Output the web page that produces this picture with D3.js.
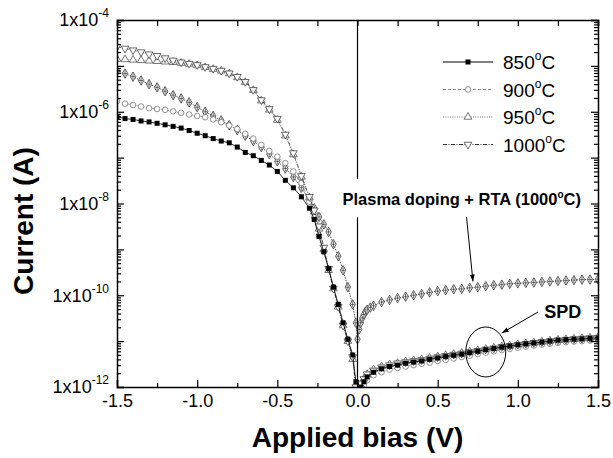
<!DOCTYPE html>
<html>
<head>
<meta charset="utf-8">
<script src="https://cdn.jsdelivr.net/npm/d3@7"></script>
<style>
  body { margin: 0; background: #fff; }
  svg { display: block; font-family: "Liberation Sans", Arial, sans-serif; }
</style>
</head>
<body>
<div id="chart"></div>
<script>
// bias points (V)
const negBias = [-1.5, -1.45, -1.4, -1.35, -1.3, -1.25, -1.2, -1.15, -1.1, -1.05, -1.0, -0.95, -0.9, -0.85, -0.8,
  -0.75, -0.7, -0.65, -0.6, -0.55, -0.5, -0.45, -0.4, -0.35, -0.3,
  -0.27, -0.24, -0.21, -0.18, -0.15, -0.12, -0.09, -0.06, -0.03, -0.01];
const posBias = [0.02, 0.04, 0.06, 0.1, 0.15, 0.2, 0.25, 0.3, 0.35, 0.4, 0.45, 0.5, 0.55, 0.6, 0.65, 0.7, 0.75,
  0.8, 0.85, 0.9, 0.95, 1.0, 1.05, 1.1, 1.15, 1.2, 1.25, 1.3, 1.35, 1.4, 1.45, 1.5];
const plasmaPosBias = [0, 0.01, 0.02, 0.03, 0.04, 0.05, 0.06, 0.08, 0.1, 0.15, 0.2, 0.25, 0.3, 0.35, 0.4, 0.45,
  0.5, 0.55, 0.6, 0.65, 0.7, 0.75, 0.8, 0.85, 0.9, 0.95, 1.0, 1.05, 1.1, 1.15, 1.2, 1.25, 1.3, 1.35, 1.4, 1.45, 1.5];

// current (A)
const i850Neg = [7.8e-7, 7.1e-7, 6.8e-7, 6.3e-7, 6.0e-7, 5.6e-7, 5.2e-7, 4.8e-7, 4.4e-7, 3.9e-7, 3.4e-7, 3.0e-7,
  2.6e-7, 2.3e-7, 2.1e-7, 1.7e-7, 1.3e-7, 1.1e-7, 8.7e-8, 6.9e-8, 5.0e-8, 3.2e-8, 2.2e-8, 1.4e-8, 7.9e-9,
  4.5e-9, 1.9e-9, 8.9e-10, 3.8e-10, 1.5e-10, 6.3e-11, 2.5e-11, 1.1e-11, 5.0e-12, 1.3e-12];
const i850Pos = [1.0e-12, 1.3e-12, 1.66e-12, 2.1e-12, 2.5e-12, 2.8e-12, 3.0e-12, 3.3e-12, 3.5e-12, 3.7e-12, 4.0e-12,
  4.3e-12, 4.6e-12, 4.9e-12, 5.2e-12, 5.6e-12, 6.0e-12, 6.5e-12, 6.9e-12, 7.4e-12, 7.8e-12, 8.3e-12, 8.7e-12,
  9.1e-12, 9.5e-12, 1.0e-11, 1.05e-11, 1.07e-11, 1.1e-11, 1.12e-11, 1.15e-11, 1.17e-11];

const i900Neg = [1.7e-6, 1.5e-6, 1.4e-6, 1.3e-6, 1.2e-6, 1.15e-6, 1.1e-6, 1.02e-6, 9.5e-7, 8.7e-7, 8.1e-7, 7.6e-7,
  6.8e-7, 5.9e-7, 5.0e-7, 4.2e-7, 3.3e-7, 2.6e-7, 1.9e-7, 1.4e-7, 1.05e-7, 7.6e-8, 5.0e-8, 2.8e-8, 1.1e-8,
  5.0e-9, 2.0e-9, 8.9e-10, 3.8e-10, 1.5e-10, 6.3e-11, 2.5e-11, 1.1e-11, 4.5e-12, 1.0e-12];
const i900Pos = [0.9e-12, 1.1e-12, 1.4e-12, 1.8e-12, 2.1e-12, 2.4e-12, 2.6e-12, 2.8e-12, 3.0e-12, 3.2e-12, 3.4e-12,
  3.7e-12, 3.9e-12, 4.2e-12, 4.5e-12, 4.8e-12, 5.2e-12, 5.6e-12, 6.0e-12, 6.4e-12, 6.8e-12, 7.2e-12, 7.6e-12,
  8.0e-12, 8.4e-12, 8.8e-12, 9.2e-12, 9.5e-12, 9.8e-12, 1.0e-11, 1.03e-11, 1.06e-11];

const i950Neg = [1.4e-5, 1.38e-5, 1.35e-5, 1.32e-5, 1.29e-5, 1.26e-5, 1.23e-5, 1.2e-5, 1.15e-5, 1.1e-5, 1.02e-5,
  9.3e-6, 8.5e-6, 7.8e-6, 6.8e-6, 5.6e-6, 4.4e-6, 2.95e-6, 1.74e-6, 1.1e-6, 6.6e-7, 3.0e-7, 1.17e-7, 3.8e-8, 1.35e-8,
  6.6e-9, 2.8e-9, 1.0e-9, 3.5e-10, 1.4e-10, 5.6e-11, 2.2e-11, 1.0e-11, 4.0e-12, 1.0e-12];
const i950Pos = [1.1e-12, 1.5e-12, 1.9e-12, 2.4e-12, 2.8e-12, 3.1e-12, 3.3e-12, 3.6e-12, 3.8e-12, 4.0e-12, 4.3e-12,
  4.6e-12, 4.9e-12, 5.2e-12, 5.5e-12, 5.9e-12, 6.3e-12, 6.7e-12, 7.1e-12, 7.6e-12, 8.0e-12, 8.5e-12, 8.9e-12,
  9.3e-12, 9.7e-12, 1.02e-11, 1.06e-11, 1.09e-11, 1.12e-11, 1.15e-11, 1.18e-11, 1.2e-11];

const i1000Neg = [2.6e-5, 2.4e-5, 2.2e-5, 2.0e-5, 1.8e-5, 1.66e-5, 1.48e-5, 1.32e-5, 1.2e-5, 1.12e-5, 1.05e-5,
  9.5e-6, 8.7e-6, 7.9e-6, 6.9e-6, 5.8e-6, 4.5e-6, 3.0e-6, 1.8e-6, 1.15e-6, 7.1e-7, 3.2e-7, 1.26e-7, 4.0e-8, 1.4e-8,
  7.1e-9, 3.2e-9, 1.1e-9, 3.8e-10, 1.4e-10, 5.6e-11, 2.2e-11, 1.0e-11, 4.5e-12, 1.0e-12];
const i1000Pos = [1.2e-12, 1.5e-12, 1.9e-12, 2.3e-12, 2.7e-12, 3.0e-12, 3.3e-12, 3.5e-12, 3.7e-12, 3.9e-12, 4.2e-12,
  4.5e-12, 4.8e-12, 5.1e-12, 5.4e-12, 5.8e-12, 6.2e-12, 6.6e-12, 7.0e-12, 7.5e-12, 7.9e-12, 8.4e-12, 8.8e-12,
  9.2e-12, 9.6e-12, 1.0e-11, 1.04e-11, 1.08e-11, 1.11e-11, 1.14e-11, 1.17e-11, 1.2e-11];

// plasma doping + RTA (1000 C)
const iPlasmaNeg = [7.8e-6, 6.8e-6, 5.8e-6, 4.8e-6, 4.0e-6, 3.4e-6, 2.8e-6, 2.3e-6, 1.95e-6, 1.6e-6, 1.26e-6,
  1.0e-6, 8.1e-7, 6.5e-7, 5.1e-7, 4.0e-7, 3.0e-7, 2.3e-7, 1.7e-7, 1.2e-7, 8.3e-8, 5.8e-8, 3.8e-8, 2.2e-8, 1.2e-8,
  7.9e-9, 5.1e-9, 3.5e-9, 2.4e-9, 1.3e-9, 7.1e-10, 3.5e-10, 1.5e-10, 6.3e-11, 2.5e-11];
const iPlasmaPos = [1.1e-11, 1.8e-11, 2.5e-11, 3.2e-11, 3.8e-11, 4.4e-11, 4.8e-11, 5.4e-11, 5.9e-11, 7.1e-11,
  7.9e-11, 8.7e-11, 9.3e-11, 1.0e-10, 1.07e-10, 1.15e-10, 1.23e-10, 1.29e-10, 1.35e-10, 1.38e-10, 1.45e-10,
  1.5e-10, 1.58e-10, 1.66e-10, 1.7e-10, 1.78e-10, 1.82e-10, 1.86e-10, 1.9e-10, 1.95e-10, 2.0e-10, 2.04e-10,
  2.1e-10, 2.14e-10, 2.19e-10, 2.2e-10, 2.24e-10];

const legendNames = ["850", "900", "950", "1000"];
const xTickLabels = [-1.5, -1.0, -0.5, 0.0, 0.5, 1.0, 1.5];
const yTickLabels = [-4, -6, -8, -10, -12];

const width = 613, height = 458;
const svg = d3.select("#chart").append("svg").attr("width", width).attr("height", height);

const x = d3.scaleLinear().domain([-1.5, 1.5]).range([117, 598]);
const y = d3.scaleLog().domain([1e-12, 1e-4]).range([387, 20]);

const pair = (vs, is) => vs.map((v, k) => [v, is[k]]);

const series = [
  { pts: pair(negBias, iPlasmaNeg).concat(pair(plasmaPosBias, iPlasmaPos)), mk: "plasma", stroke: "#222", dash: "1.5,1.2", mstroke: "#333" },
  { pts: pair(negBias, i900Neg).concat(pair(posBias, i900Pos)), mk: "circle", stroke: "#888", dash: "3,2", mstroke: "#777" },
  { pts: pair(negBias, i950Neg).concat(pair(posBias, i950Pos)), mk: "up", stroke: "#777", dash: "1,1.3", mstroke: "#555" },
  { pts: pair(negBias, i1000Neg).concat(pair(posBias, i1000Pos)), mk: "down", stroke: "#333", dash: "4,1.5,1,1.5", mstroke: "#444" },
  { pts: pair(negBias, i850Neg).concat(pair(posBias, i850Pos)), mk: "square", stroke: "#000", dash: null, mstroke: "#000" }
];

svg.append("clipPath").attr("id", "clip")
  .append("rect").attr("x", 117).attr("y", 20).attr("width", 481).attr("height", 367);

// marker shapes
function drawMarker(g, type, color) {
  if (type === "square") {
    g.append("rect").attr("x", -2.5).attr("y", -2.5).attr("width", 5).attr("height", 5).attr("fill", "#000");
  } else if (type === "circle") {
    g.append("circle").attr("r", 2.8).attr("fill", "#fff").attr("stroke", color).attr("stroke-width", 0.8);
  } else if (type === "up") {
    g.append("path").attr("d", d3.symbol(d3.symbolTriangle, 26)()).attr("fill", "#fff").attr("stroke", color).attr("stroke-width", 0.8);
  } else if (type === "down") {
    g.append("path").attr("d", d3.symbol(d3.symbolTriangle, 26)()).attr("transform", "rotate(180)")
      .attr("fill", "#fff").attr("stroke", color).attr("stroke-width", 0.8);
  } else {
    g.append("path").attr("d", d3.symbol(d3.symbolDiamond, 26)()).attr("fill", "#fff").attr("stroke", color).attr("stroke-width", 0.8);
    g.append("path").attr("d", "M-2,0H2M0,-3V3").attr("stroke", color).attr("stroke-width", 0.7);
  }
}

const line = d3.line().x(d => x(d[0])).y(d => y(d[1]));
const plot = svg.append("g").attr("clip-path", "url(#clip)");

series.forEach(s => {
  plot.append("path").datum(s.pts)
    .attr("d", line).attr("fill", "none")
    .attr("stroke", s.stroke).attr("stroke-width", 0.8)
    .attr("stroke-dasharray", s.dash);
  plot.append("g").selectAll("g").data(s.pts).join("g")
    .attr("transform", d => `translate(${x(d[0])},${y(d[1])})`)
    .each(function () { drawMarker(d3.select(this), s.mk, s.mstroke); });
});

// vertical line at 0 V, broken for the annotation text
const zeroLine = svg.append("g").attr("stroke", "#000").attr("stroke-width", 1.2);
zeroLine.append("line").attr("x1", x(0)).attr("x2", x(0)).attr("y1", y(1e-4)).attr("y2", y(3.4e-8));
zeroLine.append("line").attr("x1", x(0)).attr("x2", x(0)).attr("y1", y(5e-9)).attr("y2", y(1e-12));

// axes
const majorX = d3.range(-1.5, 1.51, 0.5);
const minorX = d3.range(-1.25, 1.3, 0.5);
const decades = d3.range(-12, -3).map(e => Math.pow(10, e));
const minorY = [];
decades.slice(0, -1).forEach(d => { for (let k = 2; k <= 9; k++) minorY.push(d * k); });

function styleAxis(g) {
  g.select(".domain").attr("stroke", "#000").attr("stroke-width", 1.5);
  g.selectAll(".tick line").attr("stroke", "#000").attr("stroke-width", 1.2);
}

svg.append("g").attr("transform", "translate(0,387)")
  .call(d3.axisBottom(x).tickValues(xTickLabels).tickSize(-7).tickPadding(7).tickFormat(d => d.toFixed(1)))
  .call(styleAxis)
  .call(g => g.selectAll(".tick text").attr("font-size", 18).attr("fill", "#000")
    .attr("font-family", "Liberation Sans, Arial, sans-serif"));
svg.append("g").attr("transform", "translate(0,387)")
  .call(d3.axisBottom(x).tickValues(minorX).tickSize(-4).tickFormat(""))
  .call(styleAxis).call(g => g.select(".domain").remove());

svg.append("g").attr("transform", "translate(0,20)")
  .call(d3.axisTop(x).tickValues(majorX).tickSize(-6).tickFormat(""))
  .call(styleAxis);
svg.append("g").attr("transform", "translate(0,20)")
  .call(d3.axisTop(x).tickValues(minorX).tickSize(-6).tickFormat(""))
  .call(styleAxis).call(g => g.select(".domain").remove());

svg.append("g").attr("transform", "translate(117,0)")
  .call(d3.axisLeft(y).tickValues(decades).tickSize(-7).tickFormat(""))
  .call(styleAxis);
svg.append("g").attr("transform", "translate(117,0)")
  .call(d3.axisLeft(y).tickValues(minorY).tickSize(-4).tickFormat(""))
  .call(styleAxis).call(g => g.select(".domain").remove());

svg.append("g").attr("transform", "translate(598,0)")
  .call(d3.axisRight(y).tickValues(decades).tickSize(-7).tickFormat(""))
  .call(styleAxis);
svg.append("g").attr("transform", "translate(598,0)")
  .call(d3.axisRight(y).tickValues(minorY).tickSize(-4).tickFormat(""))
  .call(styleAxis).call(g => g.select(".domain").remove());

// y tick labels 1x10^n
const yLab = svg.append("g").attr("font-size", 18).attr("text-anchor", "end");
yTickLabels.forEach(e => {
  const t = yLab.append("text").attr("x", 109).attr("y", y(Math.pow(10, e))).attr("dy", "0.35em");
  t.append("tspan").text("1x10");
  t.append("tspan").attr("font-size", 12).attr("dy", "-0.75em").text(e);
});

// axis titles
svg.append("text").attr("x", x(0)).attr("y", 447).attr("text-anchor", "middle")
  .attr("font-size", 28).attr("font-weight", "bold").text("Applied bias (V)");
svg.append("text").attr("transform", "translate(33,221) rotate(-90)").attr("text-anchor", "middle")
  .attr("font-size", 28).attr("font-weight", "bold").text("Current (A)");

// legend
const legend = svg.append("g").attr("transform", "translate(443,62)");
const legendOrder = [4, 1, 2, 3];
legendOrder.forEach((si, k) => {
  const s = series[si];
  const row = legend.append("g").attr("transform", `translate(0,${k * 27.5})`);
  row.append("line").attr("x1", 0).attr("x2", 50).attr("stroke", s.stroke)
    .attr("stroke-width", si === 4 ? 1.2 : 1).attr("stroke-dasharray", s.dash);
  drawMarker(row.append("g").attr("transform", "translate(25,0)"), s.mk, s.mstroke);
  const t = row.append("text").attr("x", 60).attr("y", 7).attr("font-size", 19);
  t.append("tspan").text(legendNames[k]);
  t.append("tspan").attr("font-size", 12).attr("dy", -9).text("o");
  t.append("tspan").attr("dy", 9).text("C");
});

// annotations
const ann = svg.append("g");
const pt = ann.append("text").attr("x", x(0.65)).attr("y", y(9.3e-9)).attr("text-anchor", "middle")
  .attr("font-size", 16.5).attr("font-weight", "bold");
pt.append("tspan").text("Plasma doping + RTA (1000");
pt.append("tspan").attr("font-size", 10).attr("dy", -7).text("o");
pt.append("tspan").attr("dy", 7).text("C)");

ann.append("text").attr("x", x(1.28)).attr("y", y(3.2e-11)).attr("text-anchor", "middle")
  .attr("font-size", 18).attr("font-weight", "bold").text("SPD");

svg.append("defs").append("marker").attr("id", "arrow").attr("viewBox", "0 0 10 10")
  .attr("refX", 10).attr("refY", 5).attr("markerWidth", 7).attr("markerHeight", 7).attr("orient", "auto")
  .append("path").attr("d", "M0,1.5L10,5L0,8.5Z").attr("fill", "#000");

ann.append("line").attr("x1", x(0.68)).attr("y1", y(5.1e-9)).attr("x2", x(0.72)).attr("y2", y(2.0e-10))
  .attr("stroke", "#000").attr("stroke-width", 1).attr("marker-end", "url(#arrow)");
ann.append("line").attr("x1", x(1.125)).attr("y1", y(4.3e-11)).attr("x2", x(0.9)).attr("y2", y(1.5e-11))
  .attr("stroke", "#000").attr("stroke-width", 1).attr("marker-end", "url(#arrow)");
ann.append("ellipse").attr("cx", x(0.8)).attr("cy", y(5.8e-12)).attr("rx", 20).attr("ry", 25)
  .attr("fill", "none").attr("stroke", "#000").attr("stroke-width", 1);
</script>
</body>
</html>
